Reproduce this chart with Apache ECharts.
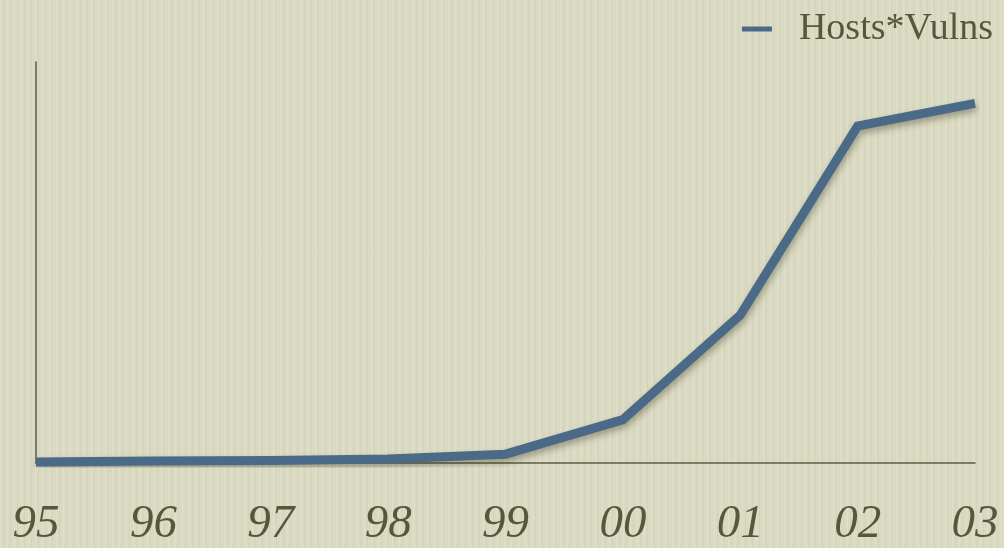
<!DOCTYPE html>
<html>
<head>
<meta charset="utf-8">
<script src="https://cdn.jsdelivr.net/npm/echarts@6/dist/echarts.min.js"></script>
<style>
  html, body { margin: 0; padding: 0; }
  body {
    width: 1004px; height: 548px; overflow: hidden;
    background-color: #dad9c1;
    background-image:
      repeating-linear-gradient(90deg,
        rgba(255,255,245,0.18) 0px, rgba(255,255,245,0.18) 1px,
        rgba(0,0,0,0) 1px, rgba(0,0,0,0) 3px,
        rgba(120,120,90,0.06) 3px, rgba(120,120,90,0.06) 4px,
        rgba(0,0,0,0) 4px, rgba(0,0,0,0) 7px);
  }
  #chart { width: 1004px; height: 548px; }
</style>
</head>
<body>
<div id="chart"></div>
<script>
// Years shown along the bottom axis
const years = ['95', '96', '97', '98', '99', '00', '01', '02', '03'];
// Hosts multiplied by vulnerabilities, relative scale
const hostsVulns = [0.25, 0.5, 0.6, 1.0, 2.2, 10.8, 36.9, 84.0, 89.7];
const seriesName = 'Hosts*Vulns';

const textColor = '#56573b';
const lineColor = '#4b6a87';

const chart = echarts.init(document.getElementById('chart'), null, { renderer: 'canvas' });
chart.setOption({
  backgroundColor: 'transparent',
  animation: false,
  legend: {
    right: 6,
    top: 5,
    itemWidth: 30,
    itemHeight: 5,
    itemGap: 10,
    icon: 'rect',
    textStyle: {
      fontFamily: 'Liberation Serif',
      fontSize: 38,
      color: textColor,
      padding: [0, 0, 0, 22]
    },
    data: [{ name: seriesName, itemStyle: { color: lineColor } }]
  },
  grid: { left: 36, right: 29, top: 62, bottom: 77, containLabel: false },
  xAxis: {
    type: 'category',
    data: years,
    boundaryGap: false,
    axisLine: { show: true, lineStyle: { color: '#5d5d40', width: 1.5 } },
    axisTick: { show: false },
    axisLabel: {
      fontFamily: 'Liberation Serif',
      fontStyle: 'italic',
      fontSize: 47,
      color: textColor,
      margin: 38,
      interval: 0
    },
    splitLine: { show: false }
  },
  yAxis: {
    type: 'value',
    min: 0,
    max: 100,
    axisLine: { show: true, lineStyle: { color: '#5d5d40', width: 1.5 } },
    axisTick: { show: false },
    axisLabel: { show: false },
    splitLine: { show: false }
  },
  series: [{
    name: seriesName,
    type: 'line',
    data: hostsVulns,
    symbol: 'none',
    lineStyle: {
      color: lineColor,
      width: 9,
      cap: 'butt',
      join: 'miter',
      shadowColor: 'rgba(40,40,20,0.35)',
      shadowBlur: 6,
      shadowOffsetX: 1,
      shadowOffsetY: 4
    },
    itemStyle: { color: lineColor }
  }]
});
</script>
</body>
</html>
